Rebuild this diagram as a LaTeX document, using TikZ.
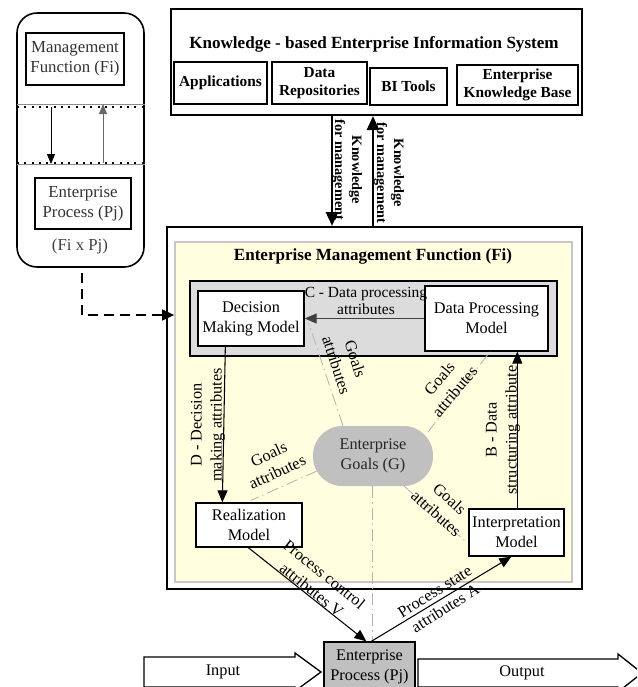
\documentclass[tikz,border=0pt]{standalone}
\usepackage{fontspec}
\setmainfont{Liberation Serif}
\usetikzlibrary{arrows.meta,calc,fit}
\definecolor{lyellow}{HTML}{FFFFE0}
\definecolor{pgray}{HTML}{DCDCDC}
\definecolor{ggray}{HTML}{C0C0C0}
\newcommand\fs{\fontsize{12.2}{15}\selectfont}
\newcommand\fsl{\fontsize{12.6}{15}\selectfont}
\newcommand\fc{\fontsize{11.6}{12.8}\selectfont}
\newcommand\fb{\fontsize{11.5}{13.5}\selectfont\bfseries}
\newcommand\fbt{\fontsize{12.8}{14}\selectfont\bfseries}
\newcommand\fk{\fontsize{10.7}{12.6}\selectfont\bfseries}
\begin{document}
\begin{tikzpicture}[x=0.75pt,y=-0.75pt,
  wbox/.style={draw, fill=white, line width=1pt, inner sep=0pt},
  bbox/.style={draw, fill=white, line width=1.3pt, inner sep=0pt},
  lbl/.style={inner sep=0pt, align=center, font=\fs},
  blbl/.style={inner sep=0pt, align=center, font=\fb},
  clbl/.style={inner sep=0pt, align=center, font=\fc},
  klbl/.style={inner sep=0pt, align=center, font=\fk, rotate=-90},
  arr/.style={line width=0.8pt, -{Triangle[length=9pt,width=7.5pt]}},
  karr/.style={line width=1.9pt, -{Triangle[length=10.5pt,width=9pt]}},
  sarr/.style={line width=0.6pt, -{Triangle[length=7.5pt,width=6pt]}},
  goal/.style={draw=black!30, line width=0.6pt, dash pattern=on 9pt off 3pt on 1pt off 3pt},
  dashline/.style={line width=1.6pt, dash pattern=on 7.5pt off 4.5pt, -{Triangle[length=9pt,width=8pt]}},
  dotline/.style={line width=1.6pt, dash pattern=on 1.5pt off 4pt}
]
\useasboundingbox (0,0) rectangle (637,687);
\clip (0,0) rectangle (637,687);

% ---------- left legend box ----------
\node[draw, line width=1.2pt, rounded corners=15pt, inner sep=0pt, fit={(17,13) (144,267)}] (lb) {};
\node[draw, line width=0.8pt, fill=white, inner sep=0pt, fit={(26,33) (124,85)}] (mf) {};
\node[lbl, font=\fsl, text=black!80] (mft) at (mf.center) {Management\\Function (Fi)};
\node[draw, line width=0.8pt, fill=white, inner sep=0pt, fit={(35,178) (131,229)}] (lp) {};
\node[lbl, font=\fsl, text=black!80] (lpt) at (lp.center) {Enterprise\\Process (Pj)};
\node[lbl, font=\fsl, text=black!75] (fixpj) at (80,246) {(Fi x Pj)};
\coordinate (d1) at (17,104);
\coordinate (d2) at (17,164);
\draw[black!45, line width=0.6pt] (d1) -- (d1 -| lb.east);
\draw[dotline] ($(d1)+(0,3)$) -- ($(d1 -| lb.east)+(0,3)$);
\draw[black!45, line width=0.6pt] (d2) -- (d2 -| lb.east);
\draw[dotline] ($(d2)+(0,-1)$) -- ($(d2 -| lb.east)+(0,-1)$);
\draw[sarr] (51,107) coordinate (la1) -- (la1 |- d2);
\draw[sarr, draw=black!60] (103,163) coordinate (la2) -- (la2 |- d1);

% ---------- top knowledge box ----------
\node[draw, line width=1.5pt, fill=white, inner sep=0pt, fit={(171,9) (582,115)}] (kb) {};
\node[inner sep=0pt, font=\fbt] (kbt) at (374,44) {Knowledge - based Enterprise Information System};
\node[bbox, fit={(174,62) (267,104)}] (app) {};
\node[blbl] (appt) at (app.center) {Applications};
\node[bbox, fit={(272,62) (367,104)}] (repo) {};
\node[blbl] (repot) at (repo.center) {Data\\Repositories};
\node[bbox, fit={(370,68) (447,105)}] (bi) {};
\node[blbl] (bit) at (bi.center) {BI Tools};
\node[bbox, fit={(457,65) (578,105)}] (ekb) {};
\node[blbl] (ekbt) at (ekb.center) {Enterprise\\Knowledge Base};

% ---------- main management box ----------
\node[draw, line width=1.5pt, fill=white, inner sep=0pt, fit={(167,227) (582,589)}] (em) {};
\node[draw=black!22, line width=1.2pt, fill=lyellow, inner sep=0pt, fit={(175,242) (572,582)}] (yl) {};
\node[inner sep=0pt, font=\fbt] (emt) at (373,256) {Enterprise Management Function (Fi)};

% knowledge arrows
\draw[karr] ($(kb.south)+(-44.5,0)$) coordinate (k1) -- (k1 |- em.north);
\draw[karr] ($(em.north)+(-1.5,0)$) coordinate (k2) -- (k2 |- kb.south);
\node[klbl] (kl1) at (347,170) {Knowledge\\for management};
\node[klbl] (kl2) at (389,173) {Knowledge\\for management};

% dashed arrow from legend
\draw[dashline] ($(lb.south)+(1.5,5)$) |- (yl.west |- 0,315);

% grey panel
\node[draw, line width=1.9pt, fill=pgray, inner sep=0pt, fit={(190,281) (557,356)}] (gp) {};
\node[wbox, fit={(198,291) (304,346)}] (dmm) {};
\node[lbl] (dmmt) at (dmm.center) {Decision\\Making Model};
\node[wbox, fit={(425,286) (548,351)}] (dpm) {};
\node[lbl] (dpmt) at (dpm.center) {Data Processing\\Model};

% goals
\node[fill=ggray, rounded corners=22pt, inner sep=0pt, fit={(313,426) (433,486)}] (eg) {};
\node[lbl, text=black!85] (egt) at (eg.center) {Enterprise\\Goals (G)};

% models
\node[wbox, fit={(196,503) (302,547)}] (rm) {};
\node[lbl] (rmt) at (rm.center) {Realization\\Model};
\node[wbox, fit={(469,509) (564,556)}] (ip) {};
\node[lbl] (ipt) at (ip.center) {Interpretation\\Model};

% enterprise process
\node[draw, line width=1pt, fill=ggray, inner sep=0pt, fit={(324,642) (415,694)}] (ep) {};
\node[lbl] (ept) at (369.5,667) {Enterprise\\Process (Pj)};

% goal lines
\draw[goal] ($(eg.north)+(-30,0)$) -- ($(dmm.east)+(4,4.5)$);
\draw[goal] ($(eg.center)+(55,-24)$) -- ($(dpm.south)+(3.5,0)$);
\draw[goal] ($(eg.center)+(-56,15)$) -- ($(rm.north)+(2,-2)$);
\draw[goal] ($(eg.center)+(31,30)$) -- ($(ip.west)+(-1,10.5)$);
\draw[goal] ($(eg.south)+(-1,0)$) coordinate (v1) -- (v1 |- ep.north);

\node[lbl, rotate=-72] (gl1) at (346,362) {Goals\\attributes};
\node[lbl, rotate=50] (gl2) at (447,385) {Goals\\attributes};
\node[lbl, rotate=25] (gl3) at (273,463) {Goals\\attributes};
\node[lbl, rotate=-42] (gl4) at (443,506) {Goals\\attributes};

% process arrows
\draw[arr, draw=black!75] (dpm.west) -- (dmm.east);
\node[clbl] (cl) at (366,301) {C - Data processing\\attributes};

\draw[arr] ($(dmm.south west)+(28,0)$) -- ($(rm.north west)+(27,0)$);
\node[lbl, rotate=90] (dl) at (208,425) {D - Decision\\making attributes};

\draw[arr] ($(ip.north west)+(49,0)$) coordinate (b1) -- (b1 |- dpm.south);
\node[lbl, rotate=90] (bl) at (503,430) {B - Data\\structuring attribute};

\draw[arr] ($(rm.south west)+(53,0)$) -- ($(ep.north west)+(43,0)$);
\node[lbl, rotate=-39] (pcl) at (318,582) {Process control\\attributes V};

\draw[arr] ($(ep.north west)+(48,0)$) -- ($(ip.south west)+(43,0)$);
\node[lbl, rotate=32] (psl) at (440,600) {Process state\\attributes A};

% input / output block arrows
\draw[line width=1pt, fill=white] (144,657) -- (295,657) -- (295,653) -- (321,672) -- (295,691) -- (295,687) -- (144,687) -- cycle;
\node[lbl] (inp) at (223,672) {Input};
\draw[line width=1pt, fill=white] (418,659) -- (618,659) -- (618,654) -- (642,673) -- (618,692) -- (618,687) -- (418,687) -- cycle;
\node[lbl] (outp) at (522,673) {Output};
\end{tikzpicture}
\end{document}
